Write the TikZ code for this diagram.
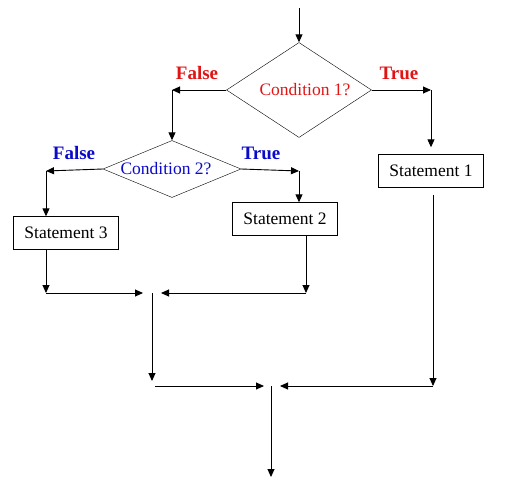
\documentclass[tikz,border=0pt]{standalone}
\usepackage{fontspec}
\setmainfont{Liberation Serif}
\usetikzlibrary{arrows.meta, shapes.geometric, positioning}
\definecolor{condred}{RGB}{225,20,20}
\definecolor{condblue}{RGB}{10,10,200}

\begin{document}
\begin{tikzpicture}[x=1pt, y=-1pt,
  stmt/.style={draw, fill=white, minimum width=105pt, minimum height=33pt,
               inner sep=2pt, font=\fontsize{17.5}{20}\selectfont},
  cond/.style={draw, diamond, inner sep=0pt, font=\fontsize{17.5}{20}\selectfont},
  flag/.style={font=\fontsize{19}{22}\selectfont\bfseries},
  arr/.style={-{Triangle[length=8pt, width=7pt]}, line width=0.9pt}
]
\useasboundingbox (0,0) rectangle (528,498);

%
%  Layout (pixels, y down):
%
%                 [Condition 1?]
%        [Condition 2?]          [Statement 1]
%  [Statement 3]     [Statement 2]
%           join 1
%                    join 2
%

% --- Conditions ---
\node[cond, aspect=1.53, minimum width=145pt, minimum height=95pt, text=condred]
      (cond1) at (299,90) {\hspace*{12pt}Condition 1?};
\node[cond, aspect=2.42, minimum width=138pt, minimum height=57pt, text=condblue]
      (cond2) at (172,169) {Condition 2?\hspace*{12pt}};

% --- Statements ---
\node[stmt] (stmt1) at (431,171) {Statement 1};
\node[stmt] (stmt2) at (285,219) {Statement 2};
\node[stmt] (stmt3) at (66,233)  {Statement 3};

% --- Branch labels ---
\node[flag, condred]  (false1) at (197,73)  {False};
\node[flag, condred]  (true1)  at (399,73)  {True};
\node[flag, condblue] (false2) at (74,153)  {False};
\node[flag, condblue] (true2)  at (261,153) {True};

% --- Corners and joins ---
\coordinate (in)   at (299,8);
\coordinate (c1l)  at (172,90);
\coordinate (c1r)  at (431,90);
\coordinate (c2l)  at (46,171);
\coordinate (c2r)  at (299,171);
\coordinate (j3)   at (46,293);
\coordinate (j2)   at (306,293);
\coordinate (m1)   at (152,293);
\coordinate (m1d)  at (152,381);
\coordinate (m1r)  at (155,386);
\coordinate (j1)   at (433,386);
\coordinate (m2)   at (271,386);
\coordinate (out)  at (271,477);

% ---- Connections ----

% entry
\draw[arr] (in) -- (cond1.north);

% Condition 1: False / True
\draw[arr] (cond1.west) -- (c1l);
\draw[arr] (c1l) -- (cond2.north);
\draw[arr] (cond1.east) -- (c1r);
\draw[arr, shorten >=7pt] (c1r) -- (stmt1.north -| c1r);

% Condition 2: False / True
\draw[arr] (cond2.west) -- (c2l);
\draw[arr] (c2l) -- (stmt3.north -| c2l);
\draw[arr] (cond2.east) -- (c2r);
\draw[arr] (c2r) -- (stmt2.north -| c2r);

% first join
\draw[arr] (stmt3.south -| j3) -- (j3);
\draw[arr] (j3) -- ([xshift=-9pt]m1);
\draw[arr] (stmt2.south -| j2) -- (j2);
\draw[arr] (j2) -- ([xshift=9pt]m1);
\draw[arr] (m1) -- (m1d);

% second join
\draw[arr] ([yshift=-7pt]stmt1.south -| j1) -- (j1);
\draw[arr] (m1r) -- ([xshift=-7pt]m2);
\draw[arr] (j1) -- ([xshift=9pt]m2);
\draw[arr] (m2) -- (out);

\end{tikzpicture}
\end{document}
